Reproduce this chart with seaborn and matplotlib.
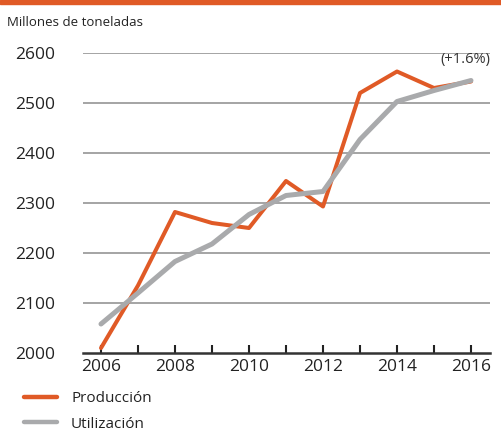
import matplotlib
matplotlib.use("Agg")
import matplotlib.pyplot as plt
import seaborn as sns
import pandas as pd
from matplotlib.lines import Line2D
from matplotlib.patches import Rectangle

years = [2006, 2007, 2008, 2009, 2010, 2011, 2012, 2013, 2014, 2015, 2016]
produccion = [2010, 2135, 2282, 2260, 2250, 2344, 2293, 2520, 2563, 2530, 2543]
utilizacion = [2058, 2120, 2183, 2218, 2277, 2315, 2323, 2427, 2503, 2525, 2545]
series_names = ["Producción", "Utilización"]
yticks = [2000, 2100, 2200, 2300, 2400, 2500, 2600]
xticks_labels = [2006, 2008, 2010, 2012, 2014, 2016]

ORANGE = "#E05A26"
GRAY = "#A9AAAC"

sns.set_theme(style="white")
plt.rcParams['font.family'] = ['Open Sans', 'DejaVu Sans']

df = pd.DataFrame({
    "year": years * 2,
    "value": produccion + utilizacion,
    "serie": [series_names[0]] * len(years) + [series_names[1]] * len(years),
})

fig = plt.figure(figsize=(5.02, 4.41), dpi=100)
ax = fig.add_axes([83/502, 1 - 353/441, (490-83)/502, 300/441])

sns.lineplot(data=df, x="year", y="value", hue="serie",
             palette={series_names[0]: ORANGE, series_names[1]: GRAY},
             ax=ax, legend=False, zorder=3)
data_lines = list(ax.get_lines())
for ln, lw, z in zip(data_lines, [2.9, 3.6], [3, 4]):
    ln.set_solid_capstyle("round")
    ln.set_clip_on(False)
    ln.set_linewidth(lw)
    ln.set_zorder(z)

for y in yticks[1:]:
    ax.axhline(y, color="#8C8C8C", lw=1.1, zorder=1)

ax.set_xlim(2006 - 18/37, 2016 + 19/37)
ax.set_ylim(2000, 2600)
for s in ["top", "right", "left"]:
    ax.spines[s].set_visible(False)
ax.spines["bottom"].set_color("#333333")
ax.spines["bottom"].set_linewidth(1.8)
ax.spines["bottom"].set_zorder(5)

ax.set_xticks(years)
ax.set_xticklabels([str(y) if y in xticks_labels else "" for y in years])
ax.set_yticks(yticks)
ax.set_yticklabels([str(y) for y in yticks])
ax.tick_params(axis="x", direction="in", length=6, width=1.5, color="#222222",
               pad=4, labelsize=12.5, labelcolor="#222222", bottom=True)
ax.tick_params(axis="y", length=0, pad=20, labelsize=12.5, labelcolor="#222222")
ax.set_xlabel("")
ax.set_ylabel("")
ax.grid(False)

ax.text(2016 + 19/37, 2571, "(+1.6%)", ha="right", va="bottom",
        fontsize=10.5, color="#333333")

fig.text(7/502, 1 - 22/441, "Millones de toneladas", fontsize=9.5,
         color="#222222", va="center", ha="left")

fig.patches.append(Rectangle((0, 1 - 4/441), 1, 4/441, transform=fig.transFigure,
                             color=ORANGE, zorder=10))

handles = [Line2D([0], [0], color=ORANGE, lw=3.2, solid_capstyle="round"),
           Line2D([0], [0], color=GRAY, lw=3.2, solid_capstyle="round")]
fig.legend(handles, series_names, loc="upper left",
           bbox_to_anchor=(0.035, 1 - 385/441), frameon=False,
           fontsize=11, handlelength=2.2, handletextpad=0.9,
           labelspacing=0.7, borderaxespad=0, labelcolor="#222222")

fig.savefig("out.png", dpi=100)
